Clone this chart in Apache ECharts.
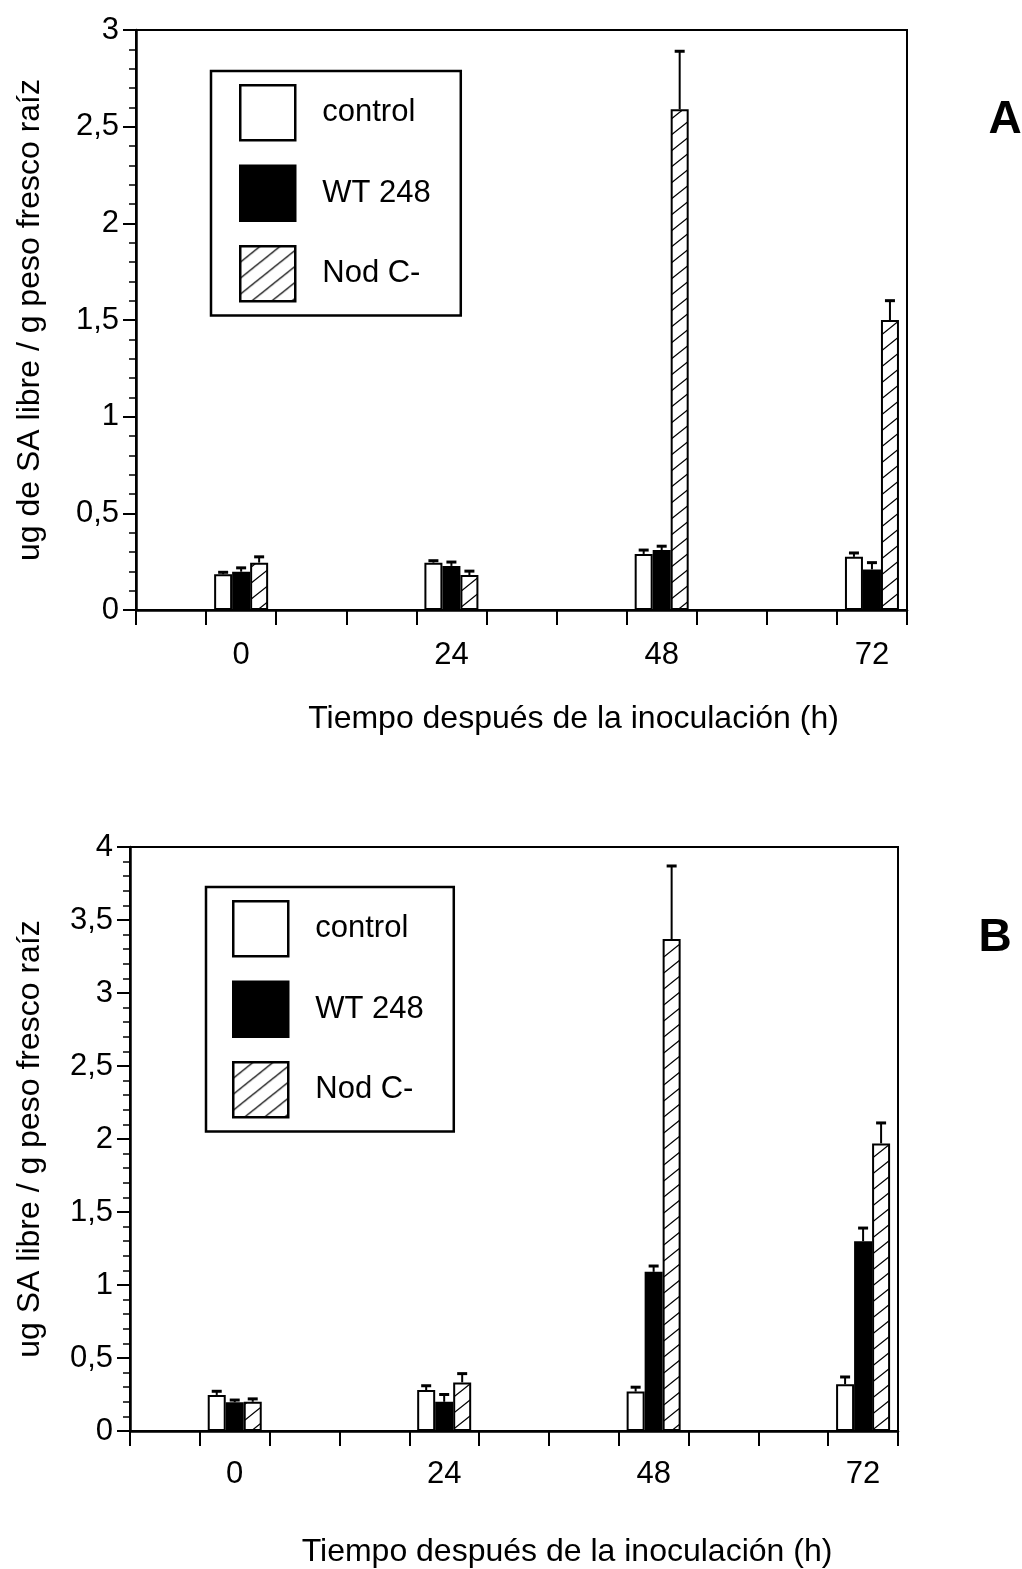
<!DOCTYPE html>
<html>
<head>
<meta charset="utf-8">
<title>Ácido salicílico libre en raíz</title>
<script src="https://cdn.jsdelivr.net/npm/echarts@6/dist/echarts.min.js"></script>
<style>
  html, body { margin: 0; padding: 0; background: #fff; }
  #chart { width: 1022px; height: 1569px; }
</style>
</head>
<body>
<div id="chart"></div>
<script>
// Hours after inoculation
const hours = ['0', '24', '48', '72'];
const seriesNames = ['control', 'WT 248', 'Nod C-'];

// Panel A: free SA (ug / g fresh root weight), mean and upper error
const controlA = [0.185, 0.245, 0.29, 0.275];
const controlErrA = [0.01, 0.01, 0.02, 0.02];
const wtA = [0.198, 0.228, 0.31, 0.21];
const wtErrA = [0.02, 0.02, 0.02, 0.035];
const nodA = [0.245, 0.181, 2.59, 1.50];
const nodErrA = [0.03, 0.02, 0.30, 0.10];

// Panel B
const controlB = [0.247, 0.28, 0.27, 0.32];
const controlErrB = [0.025, 0.03, 0.03, 0.05];
const wtB = [0.197, 0.20, 1.09, 1.30];
const wtErrB = [0.015, 0.05, 0.04, 0.09];
const nodB = [0.20, 0.333, 3.37, 1.97];
const nodErrB = [0.02, 0.06, 0.50, 0.14];

// Y tick labels use a decimal comma
const yTicksA = [0, 0.5, 1, 1.5, 2, 2.5, 3];
const yTicksB = [0, 0.5, 1, 1.5, 2, 2.5, 3, 3.5, 4];

const FONT = '"Liberation Sans", Arial, Helvetica, sans-serif';
const BAR_W = 18;

// Category bands: an empty band before the first group, two between groups
function bands(labels) {
  const out = [''];
  labels.forEach((h, i) => { if (i) out.push('', ''); out.push(h); });
  return out;
}
const xCats = bands(hours);
function spread(values) {
  const out = ['-'];
  values.forEach((v, i) => { if (i) out.push('-', '-'); out.push(v); });
  return out;
}
function errData(values, errs, k) {
  const out = [];
  values.forEach((v, i) => out.push([xCats.indexOf(hours[i]), v, errs[i], k]));
  return out;
}

// Diagonal hatch fill
function hatch() {
  const w = 20, h = 16;
  const c = document.createElement('canvas');
  c.width = w; c.height = h;
  const g = c.getContext('2d');
  g.fillStyle = '#fff';
  g.fillRect(0, 0, w, h);
  g.strokeStyle = '#000';
  g.lineWidth = 1.3;
  g.beginPath();
  g.moveTo(-2, h + 2 * h / w); g.lineTo(w + 2, -2 * h / w);
  g.moveTo(-2 - w, h + 2 * h / w); g.lineTo(2, -2 * h / w);
  g.moveTo(w - 2, h + 2 * h / w); g.lineTo(2 * w + 2, -2 * h / w);
  g.stroke();
  return { image: c, repeat: 'repeat' };
}
const fills = ['#fff', '#000', hatch()];

function errorBars(gridIdx, name, values, errs, k) {
  return {
    type: 'custom',
    name: name,
    xAxisIndex: gridIdx,
    yAxisIndex: gridIdx,
    z: 5,
    silent: true,
    encode: { x: 0, y: 1 },
    data: errData(values, errs, k),
    renderItem: function (params, api) {
      const x = api.value(0), v = api.value(1), e = api.value(2), idx = api.value(3);
      const base = api.coord([x, v]);
      const top = api.coord([x, v + e]);
      const cx = base[0] + (idx - 1) * BAR_W;
      return {
        type: 'group',
        children: [
          { type: 'line', shape: { x1: cx, y1: base[1], x2: cx, y2: top[1] },
            style: { stroke: '#000', lineWidth: 2 } },
          { type: 'line', shape: { x1: cx - 5, y1: top[1], x2: cx + 5, y2: top[1] },
            style: { stroke: '#000', lineWidth: 3 } }
        ]
      };
    }
  };
}

function barSeries(gridIdx, k, values) {
  return {
    type: 'bar',
    name: seriesNames[k],
    xAxisIndex: gridIdx,
    yAxisIndex: gridIdx,
    barWidth: BAR_W,
    barGap: '0%',
    data: spread(values),
    itemStyle: { color: fills[k], borderColor: '#000', borderWidth: 2 },
    emphasis: { disabled: true }
  };
}

function xAxis(gridIdx, shift, gap, labelMargin) {
  return {
    type: 'category',
    gridIndex: gridIdx,
    data: xCats,
    boundaryGap: true,
    axisLine: { lineStyle: { color: '#000', width: 2.5 } },
    axisTick: { show: true, interval: 0, length: 15, lineStyle: { color: '#000', width: 2 } },
    axisLabel: { interval: 0, color: '#000', fontSize: 31, fontFamily: FONT, margin: labelMargin },
    splitLine: { show: false },
    name: 'Tiempo después de la inoculación (h)',
    nameLocation: 'middle',
    nameGap: gap,
    nameTextStyle: { color: '#000', fontSize: 32, fontFamily: FONT, padding: [0, 0, 0, shift] }
  };
}

function yAxis(gridIdx, ticks, name, gap) {
  return {
    type: 'value',
    gridIndex: gridIdx,
    min: ticks[0],
    max: ticks[ticks.length - 1],
    interval: ticks[1] - ticks[0],
    axisLine: { show: true, lineStyle: { color: '#000', width: 2.5 } },
    axisTick: { show: true, length: 13, lineStyle: { color: '#000', width: 2 } },
    minorTick: { show: true, splitNumber: 5, length: 7, lineStyle: { color: '#000', width: 1.5 } },
    axisLabel: {
      color: '#000', fontSize: 31, fontFamily: FONT, margin: 17,
      formatter: v => String(v).replace('.', ',')
    },
    splitLine: { show: false },
    name: name,
    nameLocation: 'middle',
    nameGap: gap,
    nameRotate: 90,
    nameTextStyle: { color: '#000', fontSize: 32, fontFamily: FONT }
  };
}

function legend(left, top, padLeft) {
  return {
    orient: 'vertical',
    left: left,
    top: top,
    data: seriesNames,
    itemWidth: 55,
    itemHeight: 55,
    itemGap: 23,
    icon: 'rect',
    selectedMode: false,
    padding: [13, 30, 13, padLeft],
    borderColor: '#000',
    borderWidth: 2.5,
    itemStyle: { borderColor: '#000', borderWidth: 2.5 },
    textStyle: { color: '#000', fontSize: 31, fontFamily: FONT, padding: [0, 0, 0, 22] }
  };
}

const chart = echarts.init(document.getElementById('chart'), null, { renderer: 'canvas' });
chart.setOption({
  backgroundColor: '#fff',
  animation: false,
  textStyle: { fontFamily: FONT },
  title: [
    { text: 'A', left: 1000, top: 92, textAlign: 'center',
      textStyle: { fontSize: 46, fontWeight: 'bold', color: '#000', fontFamily: FONT } },
    { text: 'B', left: 990, top: 910, textAlign: 'center',
      textStyle: { fontSize: 46, fontWeight: 'bold', color: '#000', fontFamily: FONT } }
  ],
  legend: [legend(211, 71, 28), legend(206, 887, 26)],
  grid: [
    { left: 136, top: 30, width: 771, height: 580, show: true, borderColor: '#000', borderWidth: 2 },
    { left: 130, top: 847, width: 768, height: 585, show: true, borderColor: '#000', borderWidth: 2 }
  ],
  xAxis: [xAxis(0, 104, 93, 30), xAxis(1, 106, 105, 28)],
  yAxis: [
    yAxis(0, yTicksA, 'ug de SA libre / g peso fresco raíz', 90),
    yAxis(1, yTicksB, 'ug SA libre / g peso fresco raíz', 84)
  ],
  series: [
    barSeries(0, 0, controlA), barSeries(0, 1, wtA), barSeries(0, 2, nodA),
    errorBars(0, 'control', controlA, controlErrA, 0),
    errorBars(0, 'WT 248', wtA, wtErrA, 1),
    errorBars(0, 'Nod C-', nodA, nodErrA, 2),
    barSeries(1, 0, controlB), barSeries(1, 1, wtB), barSeries(1, 2, nodB),
    errorBars(1, 'control', controlB, controlErrB, 0),
    errorBars(1, 'WT 248', wtB, wtErrB, 1),
    errorBars(1, 'Nod C-', nodB, nodErrB, 2)
  ]
});
</script>
</body>
</html>
